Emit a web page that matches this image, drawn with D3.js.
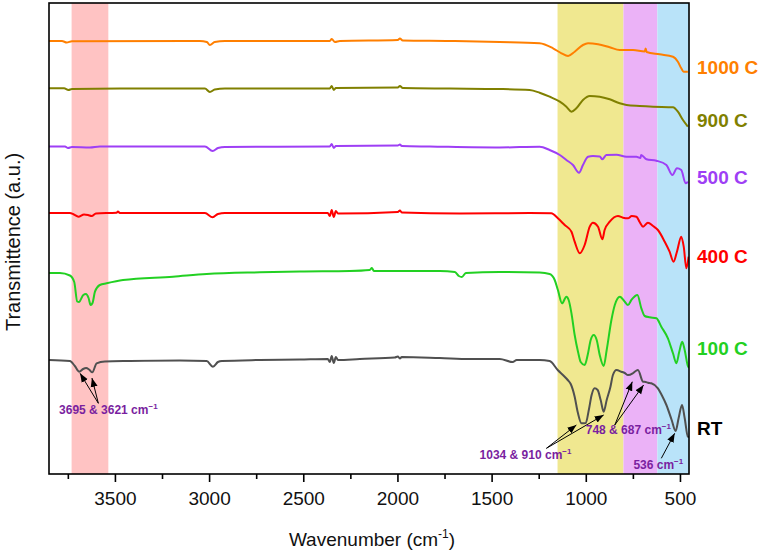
<!DOCTYPE html>
<html><head><meta charset="utf-8">
<script src="https://cdn.jsdelivr.net/npm/d3@7"></script>
<style>body{margin:0;background:#fff}svg{display:block;font-family:Arial,"Liberation Sans",sans-serif}</style>
</head><body><svg id="chart" width="761" height="554"></svg>
<script>
// ---- data (wavenumber cm-1, transmittance a.u. incl. vertical offset) ----
const seriesNames = ["RT", "100 C", "400 C", "500 C", "900 C", "1000 C"];
const seriesColors = ["#505050", "#22D022", "#FF0000", "#9E3FF5", "#808000", "#FF7F00"];
const labelColors = ["#000000", "#22D022", "#FF0000", "#9E3FF5", "#808000", "#FF7F00"];

const rtData = [[3850,114],[3739,113],[3713,108],[3689,102.3],[3669,105],[3653,106],[3637,104.5],[3620,101.7],[3597,110.7],[3553,112.5],[3420,113],[3155,113.5],[3013,113],[2980,107.3],[2953,112],[2932,113],[2731,114],[2518,114.5],[2370,115],[2359,112],[2349,118],[2338,111],[2327,117],[2316,114],[2200,115],[2014,116.5],[1998,117.5],[1987,115.5],[1977,117],[1775,116],[1616,115],[1457,115],[1388,112],[1367,114],[1245,114],[1192,113],[1149,104],[1112,97.3],[1096,94],[1080,90],[1059,77.3],[1043,62],[1023,50.7],[1000,51],[984,64],[969,79],[953,85.7],[937,84],[921,74],[905,62.3],[889,74],[869,87.3],[856,99],[837,104],[811,102.3],[793,101],[776,99],[751,100.7],[735,103],[723,104],[696,92.3],[682,92],[670,91.3],[652,90.7],[617,85.7],[597,79],[572,69],[544,54],[523,43],[507,56],[489,69],[475,56],[458,37.3],[452,37]];
const c100Data = [[3850,201],[3792,201],[3739,198.5],[3716,192],[3700,172.5],[3691,172],[3668,179],[3654,180],[3640,176],[3629,169],[3619,171],[3606,182.3],[3580,189],[3544,190.7],[3457,194],[3192,197.3],[3013,200],[2730,201.7],[2518,202.5],[2253,203],[2147,204],[2136,206],[2125,203],[1987,203],[1775,203],[1695,202],[1674,198],[1658,197],[1637,201],[1457,202],[1245,201.5],[1192,200],[1165,194],[1148,184],[1126,170.7],[1103,177.3],[1091,174],[1076,160.7],[1059,139],[1041,122],[1027,112],[1006,109],[990,119],[974,134],[958,139],[942,134],[926,119],[905,108],[889,124],[864,154],[846,169],[819,177.3],[793,172.3],[776,169],[758,174],[726,179],[705,165.7],[687,158],[661,156.7],[625,155.7],[599,147.3],[564,135.7],[537,120.7],[519,110.7],[504,122],[488,132.3],[475,124],[458,108],[452,106]];
const c400Data = [[3850,261],[3739,261],[3718,259.5],[3694,257.3],[3664,259.5],[3643,259],[3623,258],[3601,260.5],[3491,261.3],[3484,262.5],[3474,261],[3022,261],[2981,256.7],[2953,260],[2916,261],[2518,261],[2370,261],[2359,258],[2349,264],[2338,257],[2327,263],[2316,260.5],[1998,262],[1987,263.5],[1977,261.5],[1669,260.5],[1298,261],[1183,260.7],[1148,255.7],[1112,249],[1076,242.3],[1059,232.3],[1032,220.7],[1006,229],[979,247.3],[962,251.3],[935,247.3],[912,234.7],[900,244],[873,252.3],[829,258],[802,256.3],[776,255.7],[756,258],[731,257.3],[714,252],[696,247.3],[670,251.3],[643,248],[617,244],[581,232.3],[555,222.3],[534,212.3],[516,222.3],[493,237.3],[480,227.3],[466,205.7],[454,217.3]];
const c500Data = [[3850,327.5],[3765,327.5],[3749,326],[3728,327],[3633,326.5],[3580,327.5],[3022,327.5],[2981,323],[2953,326],[2916,327],[2359,327.5],[2349,330],[2338,326],[2327,328],[1998,328.5],[1987,329.5],[1977,328],[1828,327.5],[1457,326.5],[1245,327.3],[1192,324],[1138,319],[1103,314],[1068,309],[1036,301.3],[1015,309],[988,317.3],[962,318],[926,317.5],[912,314.7],[891,319],[837,319.3],[784,317.3],[731,317.3],[710,316],[706,319],[678,314.7],[625,313.3],[572,309],[540,299],[516,305.7],[493,304],[470,290.7],[458,292.3]];
const c900Data = [[3850,385.7],[3770,385.7],[3747,384],[3728,385],[3474,385.5],[3022,385.5],[2996,382],[2970,384.5],[2916,385.5],[2359,385.5],[2349,388],[2338,384],[2327,386],[1998,386.5],[1987,388],[1972,386],[1722,385.5],[1457,385],[1298,384],[1245,381.3],[1192,377.3],[1138,372.3],[1103,367.3],[1076,362.3],[1050,365.7],[1015,374],[979,378],[926,377.3],[873,374.7],[820,370.7],[784,369],[714,368],[643,367.3],[537,366.7],[511,362.3],[484,354],[458,347.3]];
const c1000Data = [[3850,433],[3781,433],[3756,431.5],[3728,432.8],[3049,433],[3012,432],[2996,429],[2970,432],[2916,433],[2359,433],[2349,435],[2332,432],[2306,433],[1998,434],[1987,435.5],[1972,433.5],[1722,433],[1457,432],[1245,430.7],[1174,425.7],[1129,420.7],[1094,418],[1059,422.3],[1015,429],[988,430.7],[935,429.7],[873,426.7],[820,424],[749,424],[687,422.5],[682,425.5],[677,422],[608,419.7],[537,417.3],[511,412.3],[493,405.7],[480,402.3],[458,402.3]];
const seriesData = [rtData, c100Data, c400Data, c500Data, c900Data, c1000Data];
// label baseline value (a.u.) for right-hand labels
const labelValues = [39, 119, 211, 290.5, 347, 400.5];

// shaded bands [from, to, colour]
const bandRanges = [[3730, 3535], [1150, 800], [800, 620], [620, 452]];
const bandColors = ["#FFC3C3", "#F0E890", "#EBB2F7", "#B9E3F9"];

const majorTicks = [3500, 3000, 2500, 2000, 1500, 1000, 500];
const minorTicks = [3750, 3250, 2750, 2250, 1750, 1250, 750];

// annotations: text, text position [w, v], arrow tail [w, v], arrow tips
const annotations = [
  {text: "3695 & 3621 cm", pos: [3535, 60], tail: [3588, 70.7], tips: [[3685, 100.7], [3622, 96]]},
  {text: "1034 & 910 cm", pos: [1320, 15], tail: [1209, 25.7], tips: [[1050, 49], [905, 59]]},
  {text: "748 & 687 cm", pos: [774, 40], tail: [846, 49], tips: [[753, 92.3], [693, 89]]},
  {text: "536 cm", pos: [615, 4.7], tail: [599, 15.7], tips: [[528, 40.7]]}
];

// ---- chart ----
const svg = d3.select("#chart");
const m = {left: 49, right: 689, top: 3, bottom: 474};
const x = d3.scaleLinear().domain([3850, 452]).range([m.left, m.right]);
const y = d3.scaleLinear().domain([0, 471]).range([m.bottom, m.top]);

svg.append("defs").append("marker")
  .attr("id", "ah").attr("viewBox", "0 -4 9 8").attr("refX", 9).attr("refY", 0)
  .attr("markerUnits", "userSpaceOnUse").attr("markerWidth", 9).attr("markerHeight", 8)
  .attr("orient", "auto")
  .append("path").attr("d", "M0,-3.5L9,0L0,3.5Z").attr("fill", "#000");

svg.append("clipPath").attr("id", "clip").append("rect")
  .attr("x", m.left).attr("y", m.top).attr("width", m.right - m.left).attr("height", m.bottom - m.top);

// bands
svg.append("g").selectAll("rect").data(bandRanges).join("rect")
  .attr("x", d => x(d[0])).attr("width", d => x(d[1]) - x(d[0]))
  .attr("y", m.top).attr("height", m.bottom - m.top)
  .attr("fill", (d, i) => bandColors[i]);

// lines
const line = d3.line().x(d => x(d[0])).y(d => y(d[1])).curve(d3.curveMonotoneX);
svg.append("g").attr("clip-path", "url(#clip)").selectAll("path").data(seriesData).join("path")
  .attr("d", line).attr("fill", "none")
  .attr("stroke", (d, i) => seriesColors[i]).attr("stroke-width", 2).attr("stroke-linejoin", "round");

// frame
svg.append("rect").attr("x", m.left).attr("y", m.top)
  .attr("width", m.right - m.left).attr("height", m.bottom - m.top)
  .attr("fill", "none").attr("stroke", "#000").attr("stroke-width", 1.6);

// x axis
const ax = svg.append("g").attr("transform", `translate(0,${m.bottom})`)
  .call(d3.axisBottom(x).tickValues(majorTicks).tickSize(8).tickPadding(10).tickFormat(d3.format("d")));
ax.select(".domain").remove();
ax.selectAll(".tick line").attr("stroke-width", 1.6);
ax.selectAll("text").attr("font-size", 19).attr("fill", "#111").attr("font-family", "Arial, 'Liberation Sans', sans-serif");
const axm = svg.append("g").attr("transform", `translate(0,${m.bottom})`)
  .call(d3.axisBottom(x).tickValues(minorTicks).tickSize(5).tickFormat(""));
axm.select(".domain").remove();
axm.selectAll(".tick line").attr("stroke-width", 1.6);

// axis titles
const xt = svg.append("text").attr("x", 372).attr("y", 546).attr("text-anchor", "middle")
  .attr("font-size", 19).attr("fill", "#111");
xt.append("tspan").text("Wavenumber (cm");
xt.append("tspan").attr("font-size", 12).attr("dy", -8).text("-1");
xt.append("tspan").attr("dy", 8).text(")");

svg.append("text").attr("transform", "translate(20,242) rotate(-90)").attr("text-anchor", "middle")
  .attr("font-size", 20).attr("fill", "#111").text("Transmittence (a.u.)");

// series labels
svg.append("g").selectAll("text").data(seriesNames).join("text")
  .attr("x", 697).attr("y", (d, i) => y(labelValues[i]))
  .attr("font-size", 19).attr("font-weight", "bold")
  .attr("fill", (d, i) => labelColors[i]).text(d => d);

// annotations
const ag = svg.append("g");
annotations.forEach(a => {
  a.tips.forEach(t => {
    ag.append("line").attr("x1", x(a.tail[0])).attr("y1", y(a.tail[1]))
      .attr("x2", x(t[0])).attr("y2", y(t[1]))
      .attr("stroke", "#000").attr("stroke-width", 1).attr("marker-end", "url(#ah)");
  });
  const t = ag.append("text").attr("x", x(a.pos[0])).attr("y", y(a.pos[1]))
    .attr("text-anchor", "middle").attr("font-size", 12).attr("font-weight", "bold").attr("fill", "#7A1FA0");
  t.append("tspan").text(a.text);
  t.append("tspan").attr("font-size", 8).attr("dy", -5).text("\u22121");
});
</script></body></html>
